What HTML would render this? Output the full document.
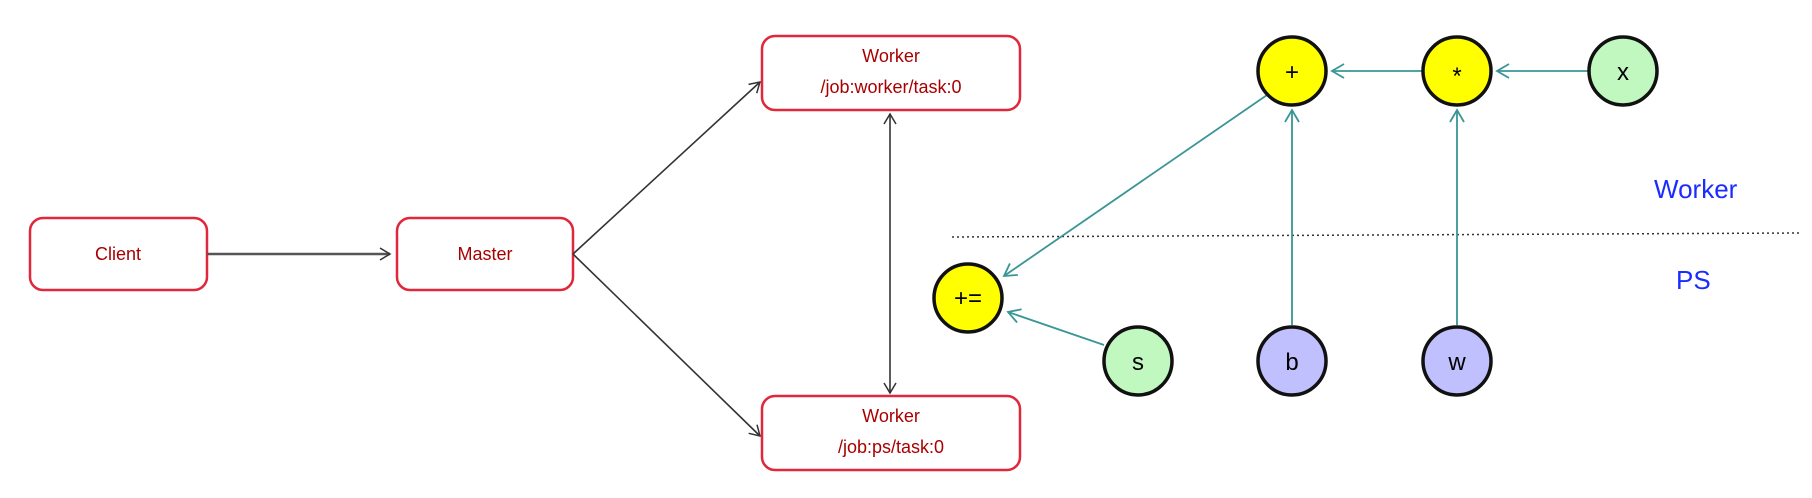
<!DOCTYPE html>
<html><head><style>
html,body{margin:0;padding:0;background:#fff;width:1812px;height:498px;overflow:hidden}
</style></head><body>
<svg width="1812" height="498" viewBox="0 0 1812 498" xmlns="http://www.w3.org/2000/svg" font-family="'Liberation Sans', sans-serif">
<defs>
<marker id="ab" markerWidth="14" markerHeight="14" refX="12" refY="7" orient="auto" markerUnits="userSpaceOnUse"><path d="M2,1 L12,7 L2,13" fill="none" stroke="#333" stroke-width="1.5"/></marker>
<marker id="at" markerWidth="16" markerHeight="16" refX="14" refY="8" orient="auto" markerUnits="userSpaceOnUse"><path d="M2,1 L14,8 L2,15" fill="none" stroke="#3a9696" stroke-width="1.8"/></marker>
<marker id="abs" markerWidth="14" markerHeight="14" refX="12" refY="7" orient="auto-start-reverse" markerUnits="userSpaceOnUse"><path d="M2,1 L12,7 L2,13" fill="none" stroke="#333" stroke-width="1.5"/></marker>
</defs>
<g fill="#fff" stroke="#e0283c" stroke-width="2.5">
<rect x="30" y="218" width="177" height="72" rx="13"/>
<rect x="397" y="218" width="176" height="72" rx="13"/>
<rect x="762" y="36" width="258" height="74" rx="13"/>
<rect x="762" y="396" width="258" height="74" rx="13"/>
</g>
<g fill="#a80000" font-size="18" text-anchor="middle">
<text x="118" y="260">Client</text>
<text x="485" y="260">Master</text>
<text x="891" y="62">Worker</text>
<text x="891" y="93">/job:worker/task:0</text>
<text x="891" y="422">Worker</text>
<text x="891" y="453">/job:ps/task:0</text>
</g>
<g stroke="#333" stroke-width="1.6" fill="none">
<line x1="207" y1="254" x2="390" y2="254" marker-end="url(#ab)" stroke-width="2.5" stroke="#555"/>
<line x1="573" y1="254" x2="760" y2="82" marker-end="url(#ab)"/>
<line x1="573" y1="254" x2="760" y2="436" marker-end="url(#ab)"/>
<line x1="890" y1="114" x2="890" y2="393" marker-start="url(#abs)" marker-end="url(#abs)"/>
</g>
<line x1="952" y1="237" x2="1800" y2="233" stroke="#333" stroke-width="1.5" stroke-dasharray="2,3"/>
<g stroke="#3a9696" stroke-width="1.8" fill="none">
<line x1="1267" y1="95" x2="1004" y2="276" marker-end="url(#at)"/>
<line x1="1104" y1="345" x2="1008" y2="312" marker-end="url(#at)"/>
<line x1="1292" y1="325" x2="1292" y2="110" marker-end="url(#at)"/>
<line x1="1457" y1="325" x2="1457" y2="110" marker-end="url(#at)"/>
<line x1="1422" y1="71" x2="1332" y2="71" marker-end="url(#at)"/>
<line x1="1588" y1="71" x2="1497" y2="71" marker-end="url(#at)"/>
</g>
<g stroke="#111" stroke-width="3.5">
<circle cx="1292" cy="71" r="34" fill="#ffff00"/>
<circle cx="1457" cy="71" r="34" fill="#ffff00"/>
<circle cx="1623" cy="71" r="34" fill="#c0f8c0"/>
<circle cx="968" cy="298" r="34" fill="#ffff00"/>
<circle cx="1138" cy="361" r="34" fill="#c0f8c0"/>
<circle cx="1292" cy="361" r="34" fill="#c0c0ff"/>
<circle cx="1457" cy="361" r="34" fill="#c0c0ff"/>
</g>
<g fill="#000" font-size="24" text-anchor="middle">
<text x="1292" y="80">+</text>
<text x="1457" y="84">*</text>
<text x="1623" y="80">x</text>
<text x="968" y="306">+=</text>
<text x="1138" y="370">s</text>
<text x="1292" y="370">b</text>
<text x="1457" y="370">w</text>
</g>
<g fill="#1a2cff" font-size="26">
<text x="1654" y="198">Worker</text>
<text x="1676" y="289">PS</text>
</g>
</svg>
</body></html>
